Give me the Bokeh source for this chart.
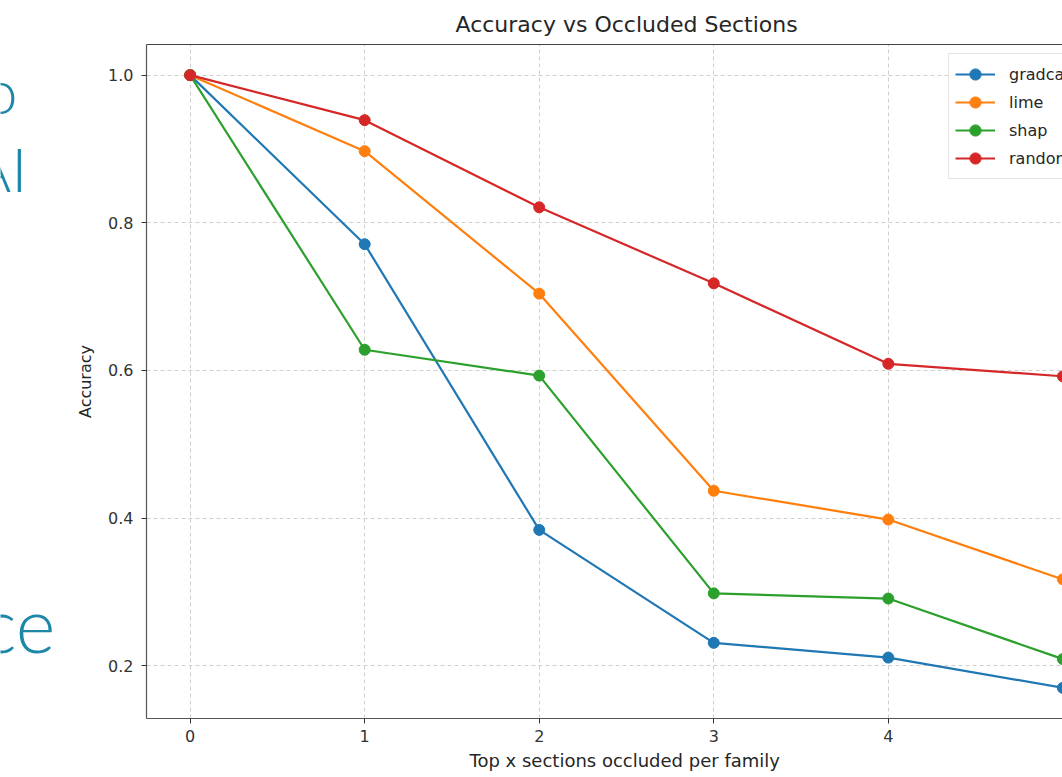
from bokeh.plotting import figure
from bokeh.layouts import row
from bokeh.models import Range1d, FixedTicker, LinearAxis, Legend, LegendItem, Title
from bokeh.core.properties import value
from bokeh.embed import file_html
from bokeh.resources import INLINE

# ---------------- data ----------------
steps = [0, 1, 2, 3, 4, 5]
gradcam = [1.0, 0.771, 0.384, 0.231, 0.211, 0.170]
lime = [1.0, 0.897, 0.704, 0.437, 0.398, 0.317]
shap = [1.0, 0.628, 0.593, 0.298, 0.291, 0.209]
random_ = [1.0, 0.939, 0.821, 0.718, 0.609, 0.592]
series_names = ["gradcam", "lime", "shap", "random"]
series_values = [gradcam, lime, shap, random_]
x_ticks = [0, 1, 2, 3, 4, 5]
x_tick_labels = ["0", "1", "2", "3", "4", "5"]
y_ticks = [0.2, 0.4, 0.6, 0.8, 1.0]
y_tick_labels = ["0.2", "0.4", "0.6", "0.8", "1.0"]
title_text = "Accuracy vs Occluded Sections"
x_label_text = "Top x sections occluded per family"
y_label_text = "Accuracy"
slide_fragments = ["o", "AI", "ce"]

# ---------------- style / layout ----------------
colors = ["#1f77b4", "#ff7f0e", "#2ca02c", "#d62728"]
TEAL = "#1d87a8"
TXT = "#262626"
W, H = 1062, 777
FW = 60                    # width of the strip holding the cut slide text
FRAME_LEFT, FRAME_TOP, FRAME_BOTTOM = 146, 44, 718
L = FRAME_LEFT - FW
T = FRAME_TOP
B = H - FRAME_BOTTOM
PW = W - FW

# matplotlib-like autoscale margins
allv = [v for s in series_values for v in s]
ymin, ymax = min(allv), max(allv)
y_start = ymin - 0.05 * (ymax - ymin)
y_end = ymax + 0.05 * (ymax - ymin)
x_start = min(steps) - 0.05 * (max(steps) - min(steps))
ref_frame_w = 960.0        # reference frame width in px (cut off on the right)
px_per_x = ref_frame_w / (1.1 * (max(steps) - min(steps)))
x_end = x_start + (PW - L) / px_per_x

p = figure(width=PW, height=H, x_range=Range1d(x_start, x_end),
           y_range=Range1d(y_start, y_end), output_backend="svg",
           toolbar_location=None, min_border_left=L, min_border_right=0,
           min_border_top=T, min_border_bottom=B)
p.outline_line_color = None
p.background_fill_color = "white"
p.border_fill_color = "white"

# axes
for ax in (p.xaxis[0], p.yaxis[0]):
    ax.axis_line_color = "#555555"
    ax.axis_line_width = 1.2
    ax.major_tick_line_color = "#333333"
    ax.major_tick_out = 5
    ax.major_tick_in = 0
    ax.minor_tick_line_color = None
    ax.major_label_text_font = "DejaVu Sans"
    ax.major_label_text_font_size = "16px"
    ax.major_label_text_color = "#333333"
p.xaxis.ticker = FixedTicker(ticks=x_ticks)
p.yaxis.ticker = FixedTicker(ticks=y_ticks)
p.xaxis.major_label_overrides = {t: s for t, s in zip(x_ticks, x_tick_labels)}
p.yaxis.major_label_overrides = {t: s for t, s in zip(y_ticks, y_tick_labels)}
p.xaxis.major_label_standoff = 6
p.yaxis.major_label_standoff = 8
p.yaxis.axis_label = y_label_text
p.yaxis.axis_label_text_font = "DejaVu Sans"
p.yaxis.axis_label_text_font_size = "16px"
p.yaxis.axis_label_text_font_style = "normal"
p.yaxis.axis_label_text_color = TXT
p.yaxis.axis_label_standoff = 10

top_axis = LinearAxis(ticker=FixedTicker(ticks=[]), axis_line_color="#444444",
                      axis_line_width=1.2, major_tick_line_color=None,
                      minor_tick_line_color=None, major_label_text_font_size="0px",
                      major_tick_out=0, major_label_standoff=0)
p.add_layout(top_axis, "above")

# title and x-axis label, centred on the full (cut) reference frame
ref_center = ref_frame_w / 2
title_w = 342
xlab_w = 314
p.add_layout(Title(text=title_text, align="left", offset=ref_center - title_w / 2,
                   text_font="DejaVu Sans", text_font_size="22px",
                   text_font_style="normal", text_color=TXT, standoff=15), "above")
p.add_layout(Title(text=x_label_text, align="left", offset=ref_center - xlab_w / 2,
                   vertical_align="top",
                   text_font="DejaVu Sans", text_font_size="18px",
                   text_font_style="normal", text_color=TXT, standoff=10), "below")

# grid
p.xgrid.ticker = FixedTicker(ticks=x_ticks)
p.ygrid.ticker = FixedTicker(ticks=y_ticks)
for g in (p.xgrid[0], p.ygrid[0]):
    g.grid_line_color = "#cfcfcf"
    g.grid_line_dash = "4 3"
    g.grid_line_width = 1

# series
items = []
for name, vals, c in zip(series_names, series_values, colors):
    lr = p.line(steps, vals, line_color=c, line_width=2.2)
    sr = p.scatter(steps, vals, size=11, fill_color=c, line_color=c)
    items.append(LegendItem(label=name, renderers=[lr, sr]))

legend_top_px, legend_left_px = 55, 948
row_h, pad = 28, 6
legend_h = 2 * pad + row_h * len(items)
legend = Legend(items=items,
                location=(legend_left_px - FRAME_LEFT, FRAME_BOTTOM - (legend_top_px + legend_h)),
                padding=pad, spacing=0, glyph_width=40, glyph_height=row_h,
                label_height=row_h, label_standoff=14,
                label_text_font="DejaVu Sans", label_text_font_size="16px",
                label_text_color=TXT, border_line_color="#cccccc",
                border_line_width=1, background_fill_alpha=0.85)
p.add_layout(legend)

# strip on the left with the cut-off slide text; its frame matches the main
# frame vertically, so the y range is expressed in page pixels
f = figure(width=FW, height=H, x_range=Range1d(0, FW),
           y_range=Range1d(FRAME_BOTTOM, FRAME_TOP),
           output_backend="svg", toolbar_location=None, title=None,
           x_axis_location=None, y_axis_location=None,
           min_border_left=0, min_border_right=0, min_border_top=T, min_border_bottom=B)
f.grid.visible = False
f.outline_line_color = None
f.border_fill_color = "white"
frag_pos = [(17, 89, "62px"), (27, 167, "62px"), (55, 623, "76px")]
for txt, (px, py, fs) in zip(slide_fragments, frag_pos):
    f.text(x=[px], y=[py], text=[txt], text_align="right", text_baseline="alphabetic",
           text_font=value("Lato Light, Lato"), text_font_size=fs, text_color=TEAL)

layout = row(f, p)
open("out.html", "w").write(file_html(layout, INLINE))
